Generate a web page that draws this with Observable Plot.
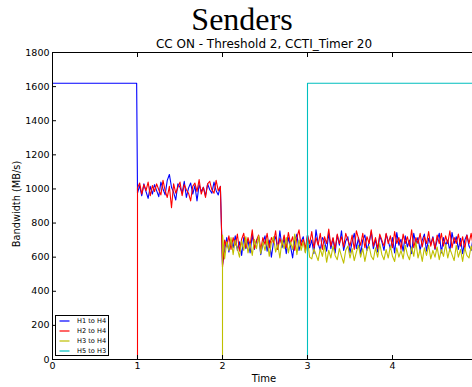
<!DOCTYPE html>
<html><head><meta charset="utf-8">
<script src="https://cdn.jsdelivr.net/npm/d3@7"></script>
<script src="https://cdn.jsdelivr.net/npm/@observablehq/plot@0.6"></script>
<style>
html,body{margin:0;padding:0;overflow:hidden;background:#fff;}
#wrap{position:relative;width:484px;height:387px;}
#wrap svg{position:absolute;left:0;top:0;}
</style>
</head><body>
<div id="wrap"></div>
<script>
// ---- data ----
const titleText = "Senders";
const subtitleText = "CC ON - Threshold 2, CCTI_Timer 20";
const xLabel = "Time";
const yLabel = "Bandwidth (MB/s)";
const xTicks = [0, 1, 2, 3, 4, 5];
const xTickLabels = [0, 1, 2, 3, 4];
const yTicks = [0, 200, 400, 600, 800, 1000, 1200, 1400, 1600, 1800];
const seriesNames = ["H1 to H4", "H2 to H4", "H3 to H4", "H5 to H3"];
const seriesColors = ["#0000ff", "#ff0000", "#bfbf00", "#00bfbf"];
const sampleStep = 0.025;

// fixed (step) parts: [time, value]
const blueSteps = [[0, 1620], [0.99, 1620]];
const redSteps = [[0, 0], [1.0, 0]];
const yellowSteps = [[0, 0], [2.0, 0]];
const cyanSteps = [[0, 0], [3.0, 0], [3.0, 1620], [5.0, 1620]];

// noisy measured parts, sampled every sampleStep from the start time
const blueAStart = 1.0;
const blueA = [975, 1020, 960, 1030, 985, 945, 1015, 970, 1025, 990, 955, 1040, 1000, 965, 1050, 1085, 1010, 980, 935, 1030,
  1010, 975, 1045, 950, 1005, 1035, 970, 1020, 930, 1025, 985, 1010, 960, 1030, 995, 975, 1040, 990, 965, 1015];
const redAStart = 1.0;
const redA = [1005, 1035, 970, 1025, 990, 1040, 960, 1020, 985, 1030, 995, 965, 1050, 990, 950, 1015, 890, 1030, 975, 1010,
  1040, 960, 1025, 995, 975, 930, 1015, 1035, 985, 1055, 970, 1010, 950, 1030, 1045, 995, 975, 1050, 990, 1015];
const blueBStart = 2.0;
const blueB = [555, 640, 715, 630, 700, 655, 725, 640, 690, 610, 715, 650, 700, 625, 735, 645, 695, 720, 615, 680,
  725, 635, 700, 600, 690, 720, 645, 755, 655, 710, 620, 715, 665, 595, 700, 735, 640, 690, 720, 630,
  730, 655, 700, 620, 760, 680, 640, 715, 695, 635, 740, 650, 710, 625, 730, 670, 755, 640, 695, 720,
  625, 690, 740, 650, 715, 615, 700, 730, 640, 685, 750, 650, 705, 630, 725, 690, 640, 735, 695, 645,
  715, 625, 745, 670, 705, 635, 725, 660, 700, 620, 740, 680, 715, 640, 700, 735, 635, 710, 675, 720,
  645, 700, 740, 625, 715, 670, 700, 635, 745, 680, 720, 645, 710, 620, 700, 730, 665, 640, 720, 695, 660];
const redBStart = 2.0;
const redB = [540, 700, 660, 725, 645, 715, 670, 735, 635, 705, 740, 655, 715, 670, 760, 650, 700, 730, 645, 715,
  675, 740, 655, 715, 685, 755, 645, 710, 670, 730, 655, 745, 680, 720, 640, 715, 760, 665, 705, 650,
  730, 680, 750, 655, 715, 670, 740, 645, 720, 680, 765, 665, 715, 650, 735, 680, 720, 660, 740, 700,
  665, 730, 645, 755, 710, 670, 740, 655, 720, 680, 760, 665, 715, 650, 735, 700, 665, 740, 680, 725,
  655, 750, 680, 715, 645, 735, 680, 720, 665, 760, 655, 715, 680, 740, 660, 720, 680, 750, 665, 715,
  650, 730, 680, 740, 665, 725, 680, 755, 655, 715, 680, 735, 665, 720, 645, 730, 680, 740, 665, 715, 690];
const yellowBStart = 2.0;
const yellowB = [730, 590, 690, 640, 715, 615, 700, 650, 600, 695, 640, 720, 625, 680, 610, 705, 650, 725, 620, 690,
  640, 705, 605, 685, 720, 630, 675, 595, 700, 650, 715, 625, 690, 645, 735, 615, 700, 640, 690, 625,
  705, 600, 590, 650, 615, 580, 650, 605, 670, 570, 640, 595, 665, 610, 585, 650, 605, 565, 640, 665,
  595, 650, 580, 630, 670, 600, 650, 575, 640, 665, 605, 585, 655, 600, 680, 615, 585, 645, 595, 665,
  605, 575, 655, 600, 640, 590, 670, 615, 585, 660, 605, 690, 595, 645, 575, 655, 610, 670, 590, 640,
  600, 660, 585, 645, 605, 675, 595, 650, 615, 580, 670, 600, 645, 575, 655, 610, 595, 665, 615, 590, 640];

// ---- build table ----
const rows = [];
function addSteps(name, steps) { for (const [t, v] of steps) rows.push({t, v, s: name}); }
function addSamples(name, start, vals) { vals.forEach((v, i) => rows.push({t: start + i * sampleStep, v, s: name})); }
addSteps(seriesNames[0], blueSteps); addSamples(seriesNames[0], blueAStart, blueA); addSamples(seriesNames[0], blueBStart, blueB);
addSteps(seriesNames[1], redSteps); addSamples(seriesNames[1], redAStart, redA); addSamples(seriesNames[1], redBStart, redB);
addSteps(seriesNames[2], yellowSteps); addSamples(seriesNames[2], yellowBStart, yellowB);
addSteps(seriesNames[3], cyanSteps);

const W = 484, H = 387;
const chart = Plot.plot({
  width: W, height: H,
  marginLeft: 52, marginRight: 7, marginTop: 52, marginBottom: 28,
  x: {domain: [0, 5]},
  y: {domain: [0, 1800]},
  color: {domain: seriesNames, range: seriesColors},
  style: {fontFamily: "DejaVu Sans", fontSize: "9.5px", color: "black", background: "white"},
  marks: [
    Plot.line(rows, {x: "t", y: "v", z: "s", stroke: "s", strokeWidth: 1.1}),
    Plot.frame({stroke: "black", strokeWidth: 1}),
    Plot.axisX({anchor: "bottom", ticks: xTicks, tickSize: -4, tickFormat: () => "", label: null}),
    Plot.axisX({anchor: "bottom", ticks: xTickLabels, tickSize: 0, tickPadding: 3, label: null, tickFormat: d => String(d)}),
    Plot.axisX({anchor: "top", ticks: xTicks, tickSize: -4, tickFormat: () => "", label: null}),
    Plot.axisY({anchor: "left", ticks: yTicks, tickSize: -4, tickPadding: 7, label: null, tickFormat: d => String(d)}),
    Plot.axisY({anchor: "right", ticks: yTicks, tickSize: -4, tickFormat: () => "", label: null})
  ]
});
const wrap = document.getElementById("wrap");
wrap.appendChild(chart);

// ---- overlay texts & legend ----
const ns = "http://www.w3.org/2000/svg";
const ov = document.createElementNS(ns, "svg");
ov.setAttribute("width", W); ov.setAttribute("height", H);
wrap.appendChild(ov);
function txt(str, x, y, size, family, anchor, extra) {
  const t = document.createElementNS(ns, "text");
  t.setAttribute("x", x); t.setAttribute("y", y);
  t.setAttribute("font-size", size); t.setAttribute("font-family", family);
  t.setAttribute("text-anchor", anchor || "middle"); t.setAttribute("fill", "black");
  if (extra) for (const k in extra) t.setAttribute(k, extra[k]);
  t.textContent = str; ov.appendChild(t); return t;
}
txt(titleText, 242, 30, 32, "Liberation Serif");
txt(subtitleText, 264, 48, 12, "DejaVu Sans");
txt(xLabel, 264, 382, 10, "DejaVu Sans");
txt(yLabel, 0, 0, 9.8, "DejaVu Sans", "middle", {transform: "translate(20,204) rotate(-90)"});

const lg = document.createElementNS(ns, "rect");
lg.setAttribute("x", 55.5); lg.setAttribute("y", 315.5); lg.setAttribute("width", 53); lg.setAttribute("height", 40);
lg.setAttribute("fill", "white"); lg.setAttribute("stroke", "black"); lg.setAttribute("stroke-width", 1);
ov.appendChild(lg);
seriesNames.forEach((name, i) => {
  const y = 321 + i * 10;
  const l = document.createElementNS(ns, "line");
  l.setAttribute("x1", 59.5); l.setAttribute("x2", 69.5); l.setAttribute("y1", y); l.setAttribute("y2", y);
  l.setAttribute("stroke", seriesColors[i]); l.setAttribute("stroke-width", 1.2);
  ov.appendChild(l);
  txt(name, 77, y + 2.4, 6.6, "DejaVu Sans", "start");
});
</script>
</body></html>
